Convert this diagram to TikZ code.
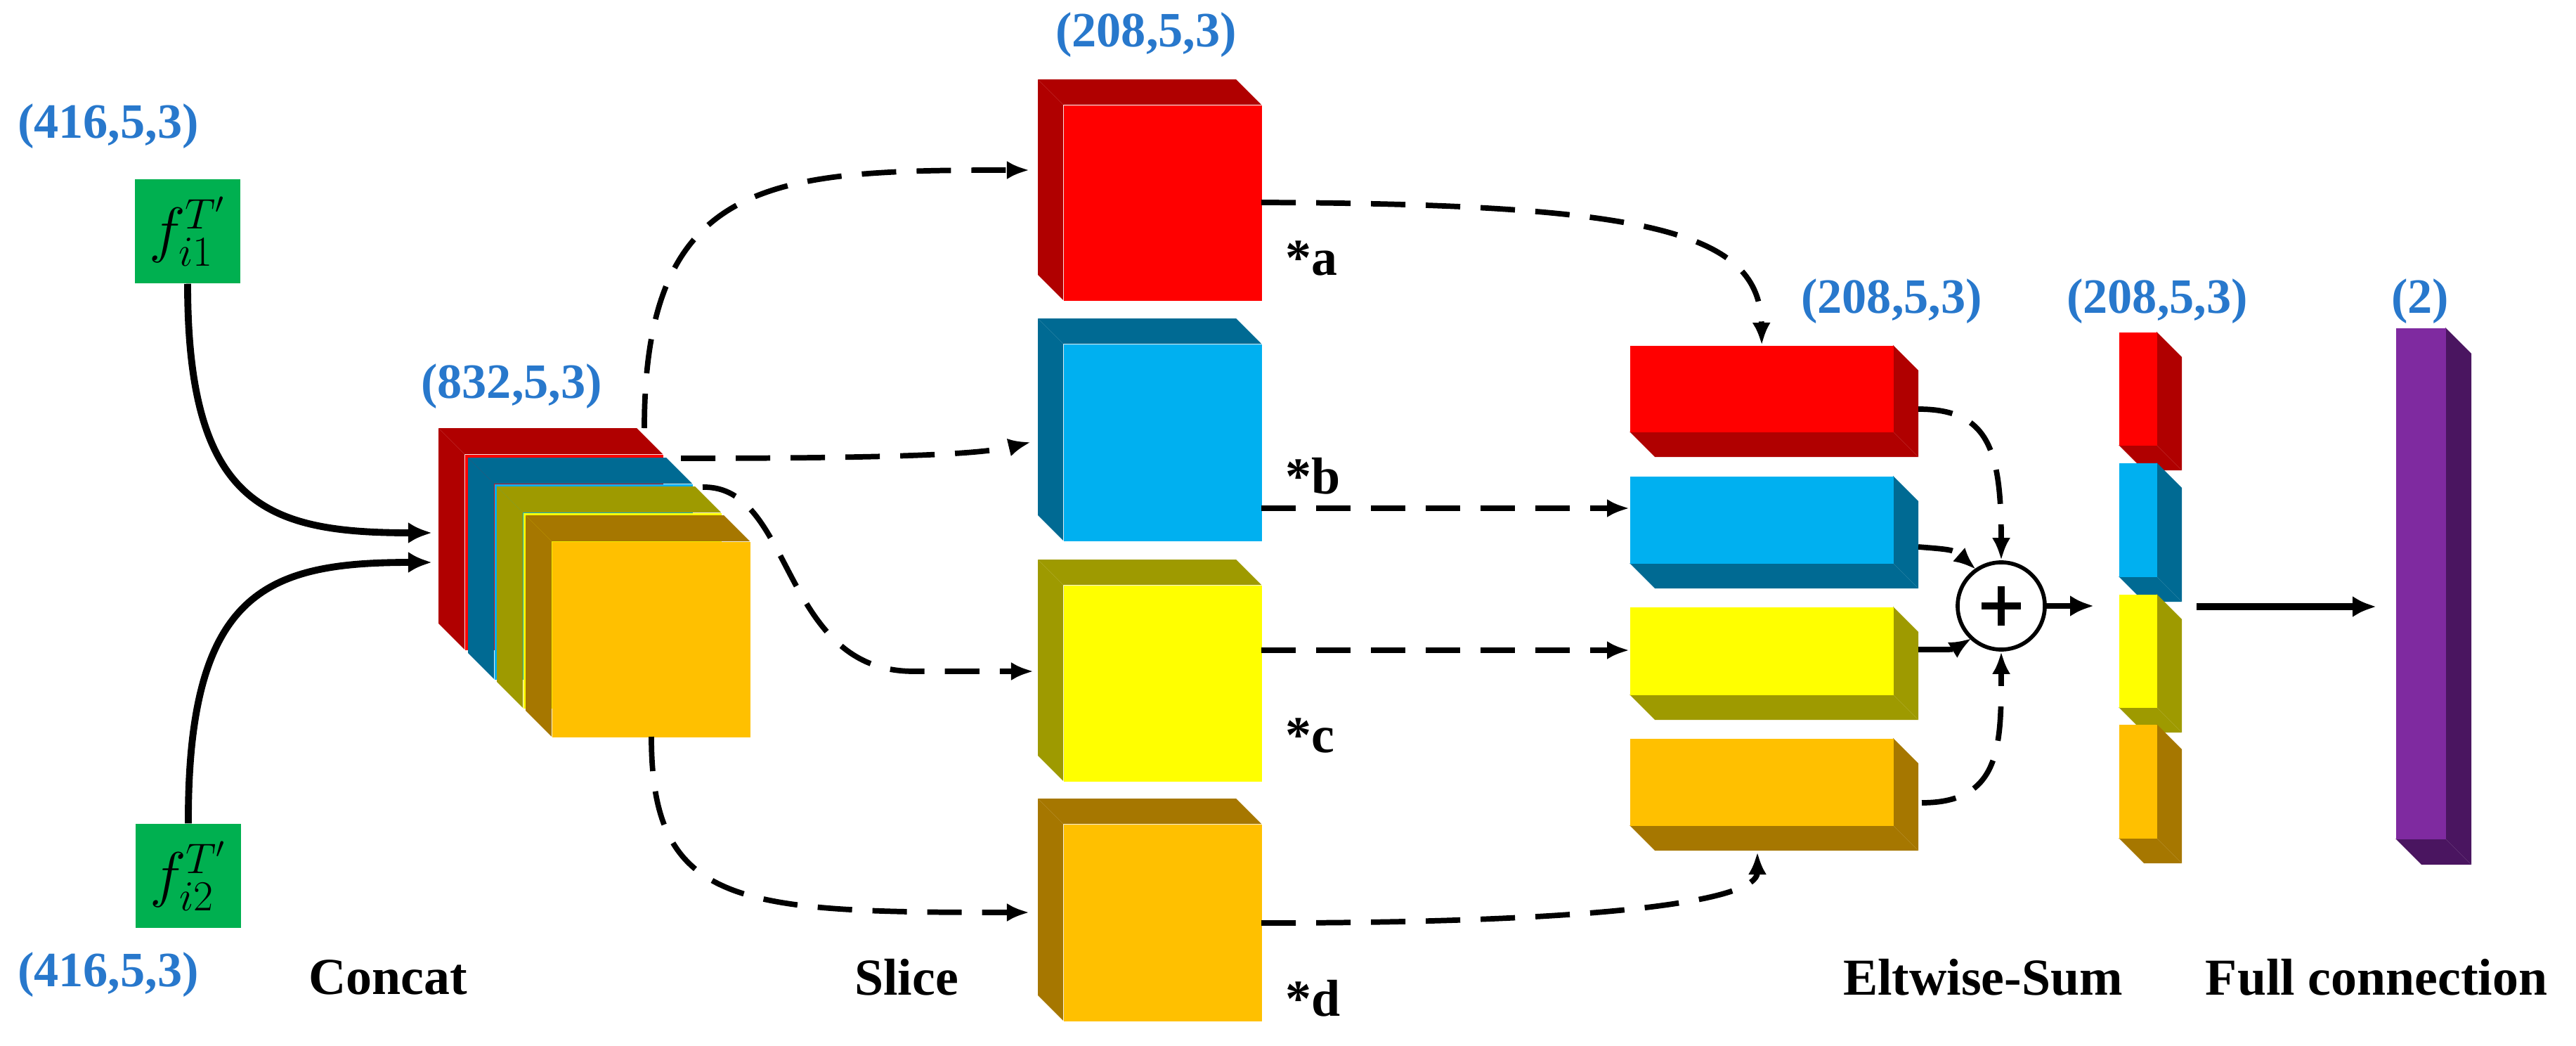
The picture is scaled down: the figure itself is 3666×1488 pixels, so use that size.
\documentclass[tikz,border=0pt]{standalone}
\usepackage{fontspec}
\setmainfont{Liberation Serif}
\usetikzlibrary{arrows.meta}
\definecolor{cR}{HTML}{FF0000}\definecolor{cRd}{HTML}{B00000}
\definecolor{cB}{HTML}{00B0F0}\definecolor{cBd}{HTML}{006A93}
\definecolor{cY}{HTML}{FFFF00}\definecolor{cYd}{HTML}{9E9A00}
\definecolor{cO}{HTML}{FFC000}\definecolor{cOd}{HTML}{A67700}
\definecolor{cP}{HTML}{7F2AA0}\definecolor{cPd}{HTML}{4A1560}
\definecolor{cG}{HTML}{00B050}\definecolor{cL}{HTML}{2878CC}
% box with back faces to the upper left
\newcommand{\boxLT}[8]{%
 \fill[#7] (#2-#8,#3-#8) -- (#2+#4-#8,#3-#8) -- (#2+#4,#3) -- (#2,#3) -- cycle;
 \fill[#7] (#2-#8,#3-#8) -- (#2,#3) -- (#2,#3+#5) -- (#2-#8,#3+#5-#8) -- cycle;
 \node[fill=#6,inner sep=0,minimum width=#4*0.01cm,minimum height=#5*0.01cm,anchor=north west] (#1) at (#2,#3) {};}
% box with side faces to the lower right
\newcommand{\boxRB}[8]{%
 \fill[#7] (#2+#4,#3) -- (#2+#4+#8,#3+#8) -- (#2+#4+#8,#3+#5+#8) -- (#2+#4,#3+#5) -- cycle;
 \fill[#7] (#2,#3+#5) -- (#2+#4,#3+#5) -- (#2+#4+#8,#3+#5+#8) -- (#2+#8,#3+#5+#8) -- cycle;
 \node[fill=#6,inner sep=0,minimum width=#4*0.01cm,minimum height=#5*0.01cm,anchor=north west] (#1) at (#2,#3) {};}
\begin{document}
\begin{tikzpicture}[x=0.01cm,y=-0.01cm,
  lbl/.style={text=cL,font=\fontsize{20}{24}\selectfont\bfseries,inner sep=0},
  capt/.style={font=\fontsize{21}{25}\selectfont\bfseries,inner sep=0},
  dsh/.style={line width=2.2pt,dash pattern=on 0.49cm off 0.29cm,-{Latex[length=0.32cm,width=0.26cm]}},
  sol/.style={line width=2.8pt,-{Latex[length=0.34cm,width=0.3cm]}},
  gbox/.style={fill=cG,inner sep=0,minimum width=1.5cm,minimum height=1.48cm,font=\fontsize{25}{30}\selectfont}]
\useasboundingbox (0,0) rectangle (3666,1488);
% inputs
\node[gbox] (g1) at (267,329) {$f_{i1}^{T'}$};
\node[gbox] (g2) at (268,1246) {$f_{i2}^{T'}$};
\node[lbl] (l1) at (154,180) {(416,5,3)};
\node[lbl] (l2) at (154,1387) {(416,5,3)};
% concat
\boxLT{c1}{661}{646}{282}{278}{cR}{cRd}{37}
\boxLT{c2}{703}{688}{282}{278}{cB}{cBd}{37}
\boxLT{c3}{744}{729}{282}{278}{cY}{cYd}{37}
\boxLT{c4}{785}{770}{282}{278}{cO}{cOd}{37}
\node[lbl] (lc) at (728,550) {(832,5,3)};
% slice
\boxLT{s1}{1513}{149}{282}{278}{cR}{cRd}{36}
\boxLT{s2}{1513}{489}{282}{280}{cB}{cBd}{36}
\boxLT{s3}{1513}{832}{282}{279}{cY}{cYd}{36}
\boxLT{s4}{1513}{1172}{282}{280}{cO}{cOd}{36}
\node[lbl] (ls) at (1631,50) {(208,5,3)};
\node[capt,anchor=west] (ta) at (1829,368) {*a};
\node[capt,anchor=west] (tb) at (1829,677) {*b};
\node[capt,anchor=west] (tc) at (1829,1046) {*c};
\node[capt,anchor=west] (td) at (1829,1420) {*d};
% eltwise
\boxRB{e1}{2319}{491}{375}{123}{cR}{cRd}{36}
\boxRB{e2}{2319}{677}{375}{124}{cB}{cBd}{36}
\boxRB{e3}{2319}{863}{375}{125}{cY}{cYd}{36}
\boxRB{e4}{2319}{1050}{375}{124}{cO}{cOd}{36}
\node[lbl] (le) at (2692,429) {(208,5,3)};
\node[circle,draw,line width=1.6pt,minimum size=1.24cm,inner sep=0] (sum) at (2848,862) {};
\draw[line width=2.6pt] (2820,862) -- (2876,862) (2848,834) -- (2848,890);
% result column
\boxRB{r1}{3015}{472}{54}{161}{cR}{cRd}{36}
\boxRB{r2}{3015}{658}{54}{162}{cB}{cBd}{36}
\boxRB{r3}{3015}{845}{54}{161}{cY}{cYd}{36}
\boxRB{r4}{3015}{1030}{54}{162}{cO}{cOd}{36}
\node[lbl] (lr) at (3070,429) {(208,5,3)};
% full connection
\boxRB{fc}{3409}{466}{71}{727}{cP}{cPd}{37}
\node[lbl] (lf) at (3444,429) {(2)};
% captions
\node[capt] (k1) at (552,1390) {Concat};
\node[capt] (k2) at (1290,1390) {Slice};
\node[capt] (k3) at (2822,1390) {Eltwise-Sum};
\node[capt] (k4) at (3382,1390) {Full connection};
% connectors
\draw[sol] (g1.south) .. controls (267,720) and (380,758) .. (615,758);
\draw[sol] (g2.north) .. controls (267,840) and (380,800) .. (615,800);
\draw[dsh] (917,609) .. controls (917,250) and (1100,242) .. (1465,242);
\draw[dsh] (969,652) .. controls (1300,652) and (1400,645) .. (1467,629);
\draw[dsh] (1000,693) .. controls (1130,690) and (1110,955) .. (1300,955) -- (1471,955);
\draw[dsh] (927,1048) .. controls (927,1290) and (1050,1298) .. (1465,1298);
\draw[dsh] (1795,288) .. controls (2350,290) and (2505,330) .. (e1.north);
\draw[dsh] (1795,723) -- (2319,723);
\draw[dsh] (1795,925) -- (2319,925);
\draw[dsh] (1795,1313) .. controls (2300,1313) and (2501,1280) .. (2501,1212);
\draw[dsh] (2730,582) .. controls (2830,582) and (2848,640) .. (sum.north);
\draw[dsh] (2730,778) .. controls (2780,782) .. (2812,810);
\draw[dsh] (2730,924) .. controls (2780,924) .. (2806,908);
\draw[dsh] (2735,1142) .. controls (2848,1142) and (2848,1060) .. (sum.south);
\draw[sol,line width=2.4pt] (sum.east) -- (2980,862);
\draw[sol] (3126,863) -- (3382,863);
\end{tikzpicture}
\end{document}
